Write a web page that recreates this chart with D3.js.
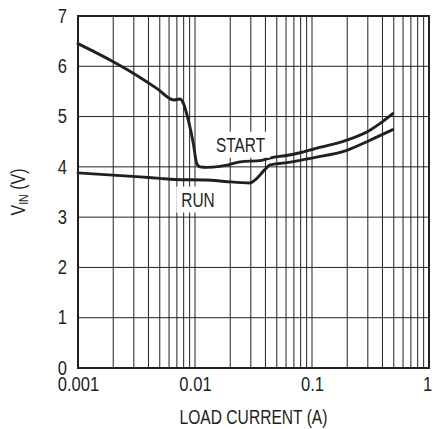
<!DOCTYPE html>
<html>
<head>
<meta charset="utf-8">
<script src="https://cdn.jsdelivr.net/npm/d3@7"></script>
<style>
  html, body { margin: 0; padding: 0; background: #fff; }
  svg { display: block; }
  text { font-family: "Liberation Sans", Arial, sans-serif; fill: #231f20; }
</style>
</head>
<body>
<svg id="chart" width="433" height="429"></svg>
<script>
// ---- data ----
const startCurrent = [0.001, 0.002, 0.00269, 0.00471, 0.0066, 0.00745, 0.0079, 0.00877, 0.00967, 0.01034, 0.01104, 0.0126, 0.0163, 0.0193, 0.0243, 0.0372, 0.0464, 0.0588, 0.0789, 0.102, 0.198, 0.313, 0.38, 0.49];
const startVin     = [6.45, 6.09, 5.92, 5.56, 5.33, 5.35, 5.28, 4.93, 4.47, 4.07, 4.00, 3.99, 4.01, 4.04, 4.10, 4.13, 4.19, 4.22, 4.28, 4.35, 4.53, 4.73, 4.86, 5.06];
const runCurrent   = [0.001, 0.0034, 0.00502, 0.00675, 0.0126, 0.0180, 0.0296, 0.0326, 0.0397, 0.0438, 0.0588, 0.0789, 0.102, 0.198, 0.313, 0.49];
const runVin       = [3.88, 3.80, 3.77, 3.75, 3.74, 3.71, 3.68, 3.74, 3.95, 4.04, 4.08, 4.13, 4.18, 4.33, 4.53, 4.74];
const xTickValues  = [0.001, 0.01, 0.1, 1];
const xTickLabels  = ["0.001", "0.01", "0.1", "1"];
const yTickValues  = [0, 1, 2, 3, 4, 5, 6, 7];
const curveLabels  = ["START", "RUN"];

// ---- layout ----
const pL = 78, pR = 429, pT = 16, pB = 368;
const FS = 19.5;
const svg = d3.select("#chart");
const x = d3.scaleLog().domain([0.001, 1]).range([pL, pR]);
const y = d3.scaleLinear().domain([0, 7]).range([pB, pT]);

function condense(sel, f) {
  sel.each(function () {
    const w = this.getComputedTextLength();
    d3.select(this).attr("textLength", w * f).attr("lengthAdjust", "spacingAndGlyphs");
  });
}

// grid: vertical lines at every 1..9 multiple per decade
const gridX = [];
[0.001, 0.01, 0.1].forEach(d => { for (let m = 2; m <= 9; m++) gridX.push(d * m); });
[0.01, 0.1].forEach(v => gridX.push(v));
const g = svg.append("g");
g.selectAll("line.vx").data(gridX).enter().append("line")
  .attr("x1", d => x(d)).attr("x2", d => x(d))
  .attr("y1", pT).attr("y2", pB)
  .attr("stroke", "#231f20").attr("stroke-width", 1);
g.selectAll("line.hy").data(yTickValues.slice(1, -1)).enter().append("line")
  .attr("x1", pL).attr("x2", pR)
  .attr("y1", d => y(d)).attr("y2", d => y(d))
  .attr("stroke", "#231f20").attr("stroke-width", 1);

// curves
const line = d3.line().x(d => x(d[0])).y(d => y(d[1])).curve(d3.curveMonotoneX);
const startPts = startCurrent.map((c, i) => [c, startVin[i]]);
const runPts = runCurrent.map((c, i) => [c, runVin[i]]);
[runPts, startPts].forEach(p => {
  svg.append("path").attr("d", line(p))
    .attr("fill", "none").attr("stroke", "#231f20")
    .attr("stroke-width", 2.9).attr("stroke-linejoin", "round").attr("stroke-linecap", "round");
});

// labels with white boxes
const labelPos = [
  { text: curveLabels[0], cx: 0.0245, cy: 4.30 },
  { text: curveLabels[1], cx: 0.0106, cy: 3.21 }
];
const labelG = svg.append("g");
labelPos.forEach(l => {
  const lg = labelG.append("g");
  const t = lg.append("text").attr("x", x(l.cx)).attr("y", y(l.cy))
    .attr("text-anchor", "middle").attr("font-size", FS).text(l.text);
  condense(t, 0.79);
  const b = t.node().getBBox();
  lg.insert("rect", "text").attr("x", b.x - 5).attr("y", b.y - 2)
    .attr("width", b.width + 10).attr("height", b.height + 4).attr("fill", "#fff");
});

// frame
svg.append("rect").attr("x", pL).attr("y", pT)
  .attr("width", pR - pL).attr("height", pB - pT)
  .attr("fill", "none").attr("stroke", "#231f20").attr("stroke-width", 2);

// axes tick labels
const xAxis = d3.axisBottom(x).tickValues(xTickValues).tickFormat((d, i) => xTickLabels[i]).tickSize(0).tickPadding(9);
const xa = svg.append("g").attr("transform", `translate(0,${pB})`).call(xAxis);
xa.select(".domain").remove();
xa.selectAll("text").attr("font-size", FS).attr("fill", "#231f20")
  .style("font-family", "'Liberation Sans', Arial, sans-serif");
xa.selectAll(".tick").filter(d => d === 1).select("text").attr("x", -2);
condense(xa.selectAll("text"), 0.85);

const yAxis = d3.axisLeft(y).tickValues(yTickValues).tickFormat(d3.format("d")).tickSize(0).tickPadding(11);
const ya = svg.append("g").attr("transform", `translate(${pL},0)`).call(yAxis);
ya.select(".domain").remove();
ya.selectAll("text").attr("font-size", FS).attr("fill", "#231f20")
  .style("font-family", "'Liberation Sans', Arial, sans-serif");
condense(ya.selectAll("text"), 0.85);

// axis titles
const xt = svg.append("text").attr("x", (pL + pR) / 2).attr("y", 424)
  .attr("text-anchor", "middle").attr("font-size", FS).text("LOAD CURRENT (A)");
condense(xt, 0.8);
const yt = svg.append("text").attr("transform", `translate(25,${(pT + pB) / 2}) rotate(-90) scale(0.82,1)`)
  .attr("text-anchor", "middle").attr("font-size", FS);
yt.append("tspan").text("V");
yt.append("tspan").attr("font-size", 13).attr("dy", 3).text("IN");
yt.append("tspan").attr("dy", -3).text(" (V)");
</script>
</body>
</html>
